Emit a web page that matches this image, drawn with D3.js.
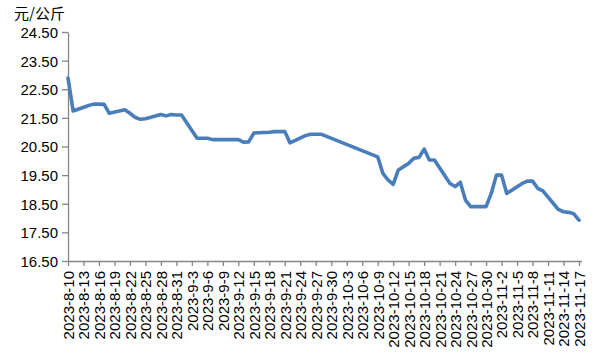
<!DOCTYPE html>
<html>
<head>
<meta charset="utf-8">
<script src="https://cdn.jsdelivr.net/npm/d3@7/dist/d3.min.js"></script>
<style>
  html, body { margin: 0; padding: 0; background: #fff; }
  svg { display: block; }
  text { font-family: "Liberation Sans", Arial, sans-serif; fill: #000; }
</style>
</head>
<body>
<svg id="chart" width="600" height="360"></svg>
<script>
const dates = [
  "2023-8-10","2023-8-11","2023-8-14","2023-8-15","2023-8-16","2023-8-17","2023-8-18",
  "2023-8-21","2023-8-22","2023-8-23","2023-8-24","2023-8-25",
  "2023-8-28","2023-8-29","2023-8-30","2023-8-31","2023-9-1",
  "2023-9-4","2023-9-5","2023-9-6","2023-9-7","2023-9-8",
  "2023-9-11","2023-9-12","2023-9-13","2023-9-14","2023-9-15",
  "2023-9-18","2023-9-19","2023-9-20","2023-9-21","2023-9-22",
  "2023-9-25","2023-9-26","2023-9-27","2023-9-28",
  "2023-10-9","2023-10-10","2023-10-11","2023-10-12","2023-10-13",
  "2023-10-15","2023-10-16","2023-10-17","2023-10-18","2023-10-19","2023-10-20",
  "2023-10-23","2023-10-24","2023-10-25","2023-10-26","2023-10-27",
  "2023-10-30","2023-10-31","2023-11-1","2023-11-2","2023-11-3",
  "2023-11-6","2023-11-7","2023-11-8","2023-11-9","2023-11-10",
  "2023-11-13","2023-11-14","2023-11-15","2023-11-16","2023-11-17"
];
const prices = [
  22.89,21.74,21.93,21.98,21.98,21.97,21.66,
  21.78,21.66,21.52,21.45,21.47,
  21.62,21.57,21.62,21.60,21.60,
  20.79,20.79,20.79,20.74,20.74,
  20.74,20.74,20.65,20.66,20.97,
  21.00,21.02,21.02,21.02,20.63,
  20.88,20.93,20.93,20.93,
  20.14,19.56,19.33,19.18,19.68,
  19.91,20.09,20.12,20.41,20.03,20.03,
  19.21,19.10,19.25,18.63,18.40,
  18.40,18.86,19.50,19.50,18.86,
  19.21,19.29,19.29,19.04,18.95,
  18.30,18.22,18.20,18.15,17.93
];
const yTicks = [16.5,17.5,18.5,19.5,20.5,21.5,22.5,23.5,24.5];
const xTickLabels = [
  "2023-8-10","2023-8-13","2023-8-16","2023-8-19","2023-8-22","2023-8-25","2023-8-28","2023-8-31",
  "2023-9-3","2023-9-6","2023-9-9","2023-9-12","2023-9-15","2023-9-18","2023-9-21","2023-9-24",
  "2023-9-27","2023-9-30","2023-10-3","2023-10-6","2023-10-9","2023-10-12","2023-10-15","2023-10-18",
  "2023-10-21","2023-10-24","2023-10-27","2023-10-30","2023-11-2","2023-11-5","2023-11-8","2023-11-11",
  "2023-11-14","2023-11-17"
];
const unitLabel = "元/公斤";

const parse = s => { const [yy, m, d] = s.split("-").map(Number); return new Date(yy, m - 1, d); };
const data = dates.map((d, i) => ({ date: parse(d), value: prices[i] }));
const xTickDates = xTickLabels.map(parse);
const labelByTime = new Map(xTickLabels.map((s, i) => [xTickDates[i].getTime(), s]));

const svg = d3.select("#chart");
const plotLeft = 68, plotRight = 579, plotTop = 32, plotBottom = 261;

const x = d3.scaleTime().domain([xTickDates[0], xTickDates[xTickDates.length - 1]]).range([plotLeft, plotRight]);
const y = d3.scaleLinear().domain([16.5, 24.5]).range([plotBottom, plotTop]);

const axisColor = "#868686";

// Y axis
const gy = svg.append("g").attr("transform", `translate(${plotLeft},0)`)
  .call(d3.axisLeft(y).tickValues(yTicks).tickFormat(d3.format(".2f")).tickSize(6).tickSizeOuter(0));
gy.select(".domain").attr("stroke", axisColor).attr("stroke-width", 1.3);
gy.selectAll(".tick line").attr("stroke", axisColor).attr("stroke-width", 1.3);
gy.selectAll(".tick text").attr("font-size", 15).attr("x", -10).attr("dy", "0.36em");

// X axis
const gx = svg.append("g").attr("transform", `translate(0,${plotBottom})`)
  .call(d3.axisBottom(x).tickValues(xTickDates).tickFormat(d => labelByTime.get(d.getTime())).tickSize(5).tickSizeOuter(0));
gx.select(".domain").attr("stroke", axisColor).attr("stroke-width", 1.3).attr("d", `M${plotLeft},0.5H${plotRight + 3}`);
gx.selectAll(".tick line").attr("stroke", axisColor).attr("stroke-width", 1.3);
gx.selectAll(".tick text")
  .attr("font-size", 15)
  .attr("transform", "rotate(-90)")
  .attr("text-anchor", "end")
  .attr("x", -10)
  .attr("y", 0)
  .attr("dy", "0.36em");

// Unit label
svg.append("text").attr("x", 14).attr("y", 19).attr("font-size", 15)
  .style("font-family", "'Noto Sans CJK SC', sans-serif").text(unitLabel);

// Line
const line = d3.line().x(d => x(d.date)).y(d => y(d.value));
svg.append("path").datum(data)
  .attr("fill", "none")
  .attr("stroke", "#4A7EBB")
  .attr("stroke-width", 3.6)
  .attr("stroke-linejoin", "round")
  .attr("stroke-linecap", "round")
  .attr("d", line);
</script>
</body>
</html>
